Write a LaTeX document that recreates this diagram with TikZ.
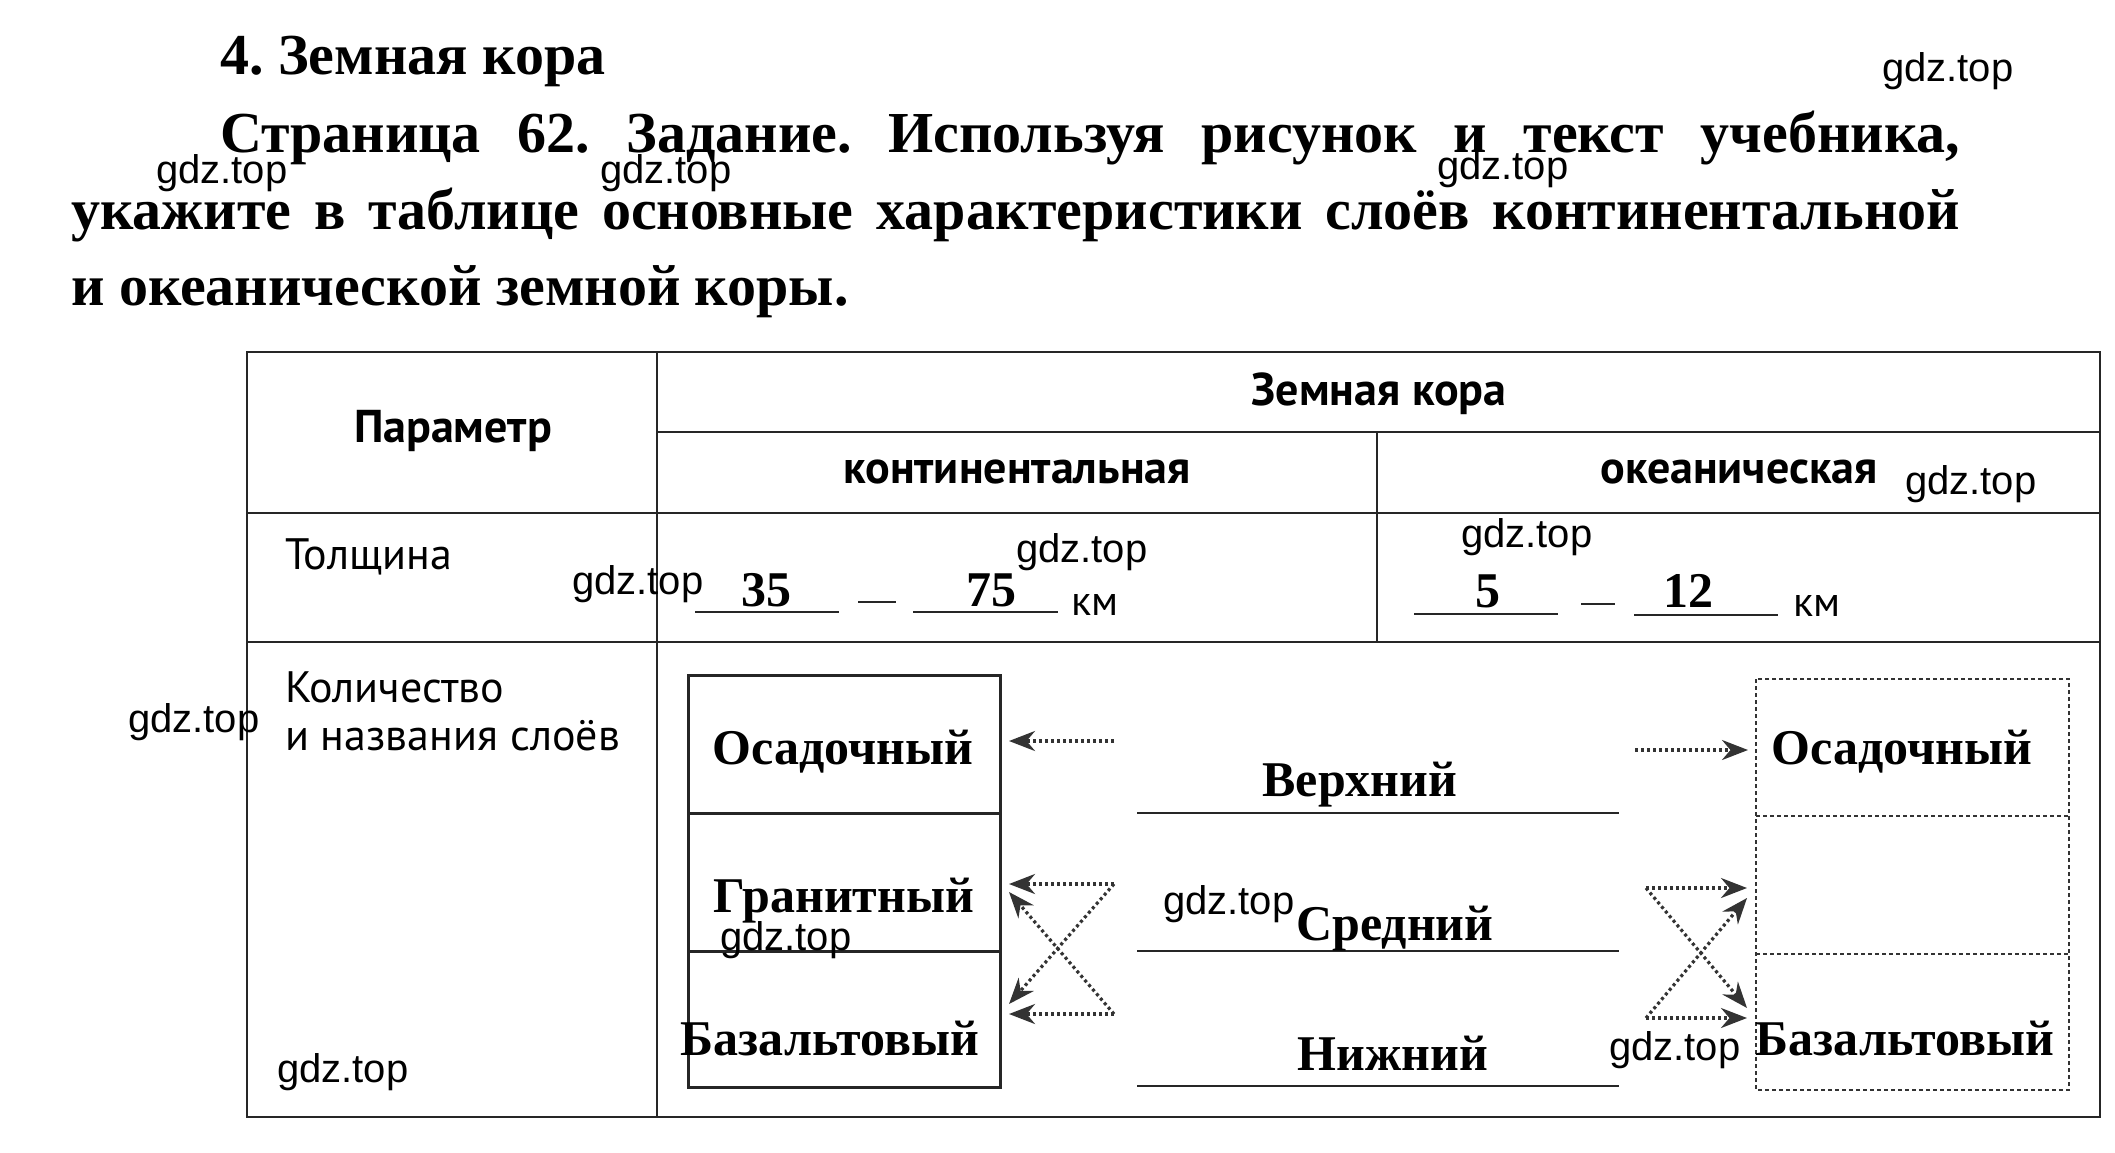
\documentclass[tikz,border=0pt]{standalone}
\usepackage{fontspec}
\setmainfont{Liberation Serif}
\newfontfamily\tabfont{PT Sans}
\newfontfamily\wmfont{Liberation Sans}
\usetikzlibrary{arrows.meta}
\frenchspacing
\begin{document}
\begin{tikzpicture}[x=1pt,y=-1pt,
 para/.style={font=\fontsize{58}{70}\selectfont\bfseries, anchor=base west, inner sep=0},
 hdr/.style={font=\tabfont\bfseries\fontsize{46}{50}\selectfont, anchor=base, inner sep=0},
 lbl/.style={font=\tabfont\fontsize{44}{50}\selectfont, anchor=base west, inner sep=0},
 layer/.style={font=\fontsize{50}{55}\selectfont\bfseries, anchor=base, inner sep=0},
 num/.style={font=\fontsize{50}{50}\selectfont\bfseries, anchor=base, inner sep=0},
 km/.style={font=\tabfont\fontsize{42}{45}\selectfont, anchor=base, inner sep=0},
 wm/.style={font=\wmfont\fontsize{40}{40}\selectfont, anchor=west, inner sep=0},
 tline/.style={line width=2.8pt, draw=black!85},
 boxline/.style={line width=3pt, draw=black!85},
 dotbox/.style={line width=2.8pt, draw=black!80, dash pattern=on 4pt off 3pt},
 flow/.style={line width=3.2pt, draw=black!80, dash pattern=on 3pt off 3pt, -{Stealth[length=26pt,width=20pt]}},
]
\useasboundingbox[fill=white] (0,0) rectangle (2115,1152);

% title and task
\node[para] (title) at (220,74) {4. Земная кора};
\node[para] (l1) at (220,152) {\makebox[1740pt][s]{Страница 62. Задание. Используя рисунок и текст учебника,}};
\node[para] (l2) at (71,229) {\makebox[1889pt][s]{укажите в таблице основные характеристики слоёв континентальной}};
\node[para] (l3) at (71,305) {и океанической земной коры.};

% table grid
\draw[tline] (247,352) rectangle (2100,1117);
\draw[tline] (657,352) -- (657,1117);
\draw[tline] (657,432) -- (2100,432);
\draw[tline] (247,513) -- (2100,513);
\draw[tline] (1377,432) -- (1377,642);
\draw[tline] (247,642) -- (2100,642);

% headers
\node[hdr] (hpar) at (453,442) {Параметр};
\node[hdr] (hzk) at (1379,405) {Земная кора};
\node[hdr] (hcont) at (1017,483) {континентальная};
\node[hdr] (hocean) at (1739,483) {океаническая};
\node[lbl] (ltol) at (285,569) {Толщина};
\node[lbl] (lkol) at (285,702) {Количество};
\node[lbl] (lnaz) at (285,750) {и названия слоёв};

% thickness
\draw[tline] (695,612) -- (839,612);
\draw[tline] (858,602) -- (896,602);
\draw[tline] (913,612) -- (1058,612);
\node[num] (n35) at (766,606) {35};
\node[num] (n75) at (991,606) {75};
\node[km] (km1) at (1095,615) {км};
\draw[tline] (1414,614) -- (1558,614);
\draw[tline] (1581,604) -- (1615,604);
\draw[tline] (1634,615) -- (1778,615);
\node[num] (n5) at (1488,607) {5};
\node[num] (n12) at (1688,607) {12};
\node[km] (km2) at (1817,616) {км};

% continental layers
\draw[boxline] (688,675) rectangle (1000,1087);
\draw[boxline] (688,813) -- (1000,813);
\draw[boxline] (688,951) -- (1000,951);
\node[layer] (cos) at (843,764) {Осадочный};
\node[layer] (cgr) at (844,912) {Гранитный};
\node[layer] (cbz) at (830,1055) {Базальтовый};

% middle names
\draw[tline] (1137,813) -- (1619,813);
\draw[tline] (1137,951) -- (1619,951);
\draw[tline] (1137,1086) -- (1619,1086);
\node[layer] (mv) at (1360,796) {Верхний};
\node[layer] (ms) at (1395,940) {Средний};
\node[layer] (mn) at (1393,1070) {Нижний};

% oceanic layers
\draw[dotbox] (1756,679) rectangle (2069,1090);
\draw[dotbox] (1756,816) -- (2069,816);
\draw[dotbox] (1756,954) -- (2069,954);
\node[layer] (oos) at (1902,764) {Осадочный};
\node[layer] (obz) at (1905,1055) {Базальтовый};

% arrow endpoints
\coordinate (a1s) at (1114,741); \coordinate (a1e) at (1009,741);
\coordinate (a2s) at (1114,884); \coordinate (a2e) at (1009,884);
\coordinate (a3s) at (1114,1014); \coordinate (a3e) at (1009,1014);
\coordinate (a4e) at (1009,892); \coordinate (a5e) at (1009,1004);
\coordinate (b1s) at (1635,750); \coordinate (b1e) at (1748,750);
\coordinate (b2s) at (1646,888); \coordinate (b2e) at (1747,888);
\coordinate (b3s) at (1646,1018); \coordinate (b3e) at (1747,1018);
\coordinate (b4e) at (1747,898); \coordinate (b5e) at (1747,1008);

\draw[flow] (a1s) -- (a1e);
\draw[flow] (a2s) -- (a2e);
\draw[flow] (a3s) -- (a3e);
\draw[flow] (a3s) -- (a4e);
\draw[flow] (a2s) -- (a5e);
\draw[flow] (b1s) -- (b1e);
\draw[flow] (b2s) -- (b2e);
\draw[flow] (b3s) -- (b3e);
\draw[flow] (b3s) -- (b4e);
\draw[flow] (b2s) -- (b5e);

% watermarks
\node[wm] (w1) at (1882,71) {gdz.top};
\node[wm] (w2) at (156,173) {gdz.top};
\node[wm] (w3) at (600,173) {gdz.top};
\node[wm] (w4) at (1437,169) {gdz.top};
\node[wm] (w5) at (1905,484) {gdz.top};
\node[wm] (w6) at (1461,537) {gdz.top};
\node[wm] (w7) at (1016,552) {gdz.top};
\node[wm] (w8) at (572,584) {gdz.top};
\node[wm] (w9) at (128,722) {gdz.top};
\node[wm] (w10) at (1163,904) {gdz.top};
\node[wm] (w11) at (720,940) {gdz.top};
\node[wm] (w12) at (1609,1050) {gdz.top};
\node[wm] (w13) at (277,1072) {gdz.top};
\end{tikzpicture}
\end{document}
